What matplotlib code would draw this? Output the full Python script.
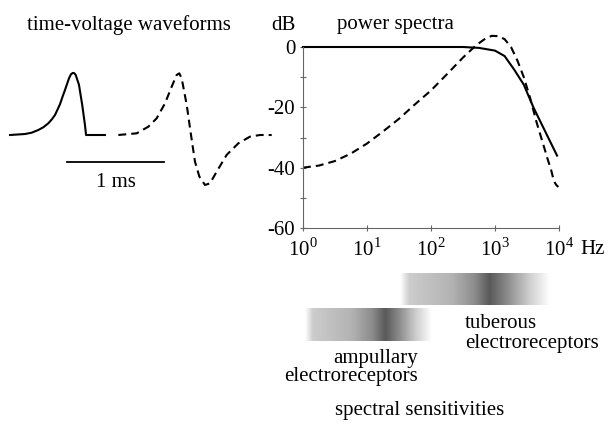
import numpy as np
import matplotlib
matplotlib.use('Agg')
from matplotlib import pyplot as plt

plt.rcParams['font.family'] = 'Liberation Serif'
plt.rcParams['mathtext.fontset'] = 'custom'
plt.rcParams['mathtext.rm'] = 'Liberation Serif'
plt.rcParams['axes.unicode_minus'] = False
plt.rcParams['font.size'] = 15

# time-voltage waveforms (time in ms, relative voltage)
pulse_t = [0, 0.155, 0.223, 0.292, 0.343, 0.395, 0.43, 0.464, 0.515, 0.54, 0.567,
           0.608, 0.629, 0.646, 0.66, 0.677, 0.711, 0.745, 0.773, 0.784, 0.979]
pulse_v = [0, 0.016, 0.037, 0.081, 0.124, 0.189, 0.25, 0.323, 0.495, 0.61, 0.726,
           0.914, 0.98, 1.0, 1.0, 0.97, 0.81, 0.48, 0.16, 0, 0]
wave_t = [1.117, 1.306, 1.426, 1.512, 1.598, 1.667, 1.718, 1.745, 1.77, 1.822,
          1.866, 1.907, 1.952, 2.01, 2.062, 2.131, 2.234, 2.354, 2.474, 2.577, 2.698]
wave_v = [0, 0.027, 0.134, 0.269, 0.511, 0.78, 0.968, 0.995, 0.914, 0.484,
          0, -0.43, -0.67, -0.806, -0.78, -0.59, -0.32, -0.134, -0.027, 0, 0]
scale_start = 0.59   # ms
scale_len = 1.0      # ms

# power spectra (log10 Hz, dB)
pulse_logf = [0, 1, 2, 2.5, 2.75, 3.0, 3.15, 3.3, 3.45, 3.6, 3.75, 3.9, 3.97]
pulse_db = [0, 0, 0, 0, -0.3, -1.2, -3.0, -7.5, -12.5, -20, -26.5, -33, -36]
wave_logf = [0, 0.25, 0.5, 0.75, 1.0, 1.25, 1.5, 1.75, 2.0, 2.25, 2.5, 2.7, 2.85,
             2.95, 3.05, 3.15, 3.25, 3.35, 3.45, 3.55, 3.65, 3.75, 3.82, 3.88,
             3.92, 3.96, 3.99]
wave_db = [-40, -39.3, -37.8, -35.3, -32, -28, -23.8, -19, -14.4, -9, -3.5, 0.5,
           2.8, 3.7, 3.6, 2.6, 0, -4.5, -10, -17, -25, -32, -37, -41, -44.5,
           -45.8, -46.4]

# spectral sensitivities (log10 Hz: start, peak, end)
sens_names = ['tuberous', 'ampullary']
sens_start = [1.52, 0.03]
sens_peak = [2.92, 1.28]
sens_end = [3.86, 2.0]

W, H = 608, 424
fig = plt.figure(figsize=(W / 100, H / 100), dpi=100)

# --- waveforms ---
axw = fig.add_axes([0, 0, 300 / W, 1])
axw.plot(pulse_t, pulse_v, color='black', lw=1.5, solid_joinstyle='round')
axw.plot(wave_t, wave_v, color='black', lw=1.5, dashes=(3.8, 2.4))
axw.plot([scale_start, scale_start + scale_len], [-0.435, -0.435], color='black', lw=1.3)
axw.text(scale_start + scale_len / 2, -0.77, '1 ms', ha='center', va='center')
axw.set_xlim(-10 / 97, 290 / 97)
axw.set_ylim((135 - H) / 62, 135 / 62)
axw.axis('off')

# --- power spectra ---
y_top = 47 - 5 * 181 / 60
ax = fig.add_axes([303 / W, (H - 228) / H, 256 / W, (228 - y_top) / H])
ax.plot(10 ** np.array(pulse_logf), pulse_db, color='black', lw=1.5, clip_on=False)
ax.plot(10 ** np.array(wave_logf), wave_db, color='black', lw=1.5, dashes=(3.8, 2.4),
        clip_on=False)
ax.set_xscale('log')
ax.set_xlim(1, 1e4)
ax.set_ylim(-60, 5)
ax.set_xticks([1, 10, 100, 1000, 10000])
ax.set_xticklabels([r'$10^{%d}$' % i for i in range(5)])
ax.minorticks_off()
ax.set_yticks([0, -20, -40, -60])
ax.set_yticklabels(['0', '-20', '-40', '-60'])
ax.set_yticks([-10, -30, -50], minor=True)
for s in ['top', 'right']:
    ax.spines[s].set_visible(False)
ax.spines['left'].set_bounds(-60, 0)
for s in ['left', 'bottom']:
    ax.spines[s].set_color('#666666')
    ax.spines[s].set_linewidth(0.8)
ax.tick_params(which='both', direction='inout', length=4, width=0.8, color='#666666')
ax.tick_params(axis='y', pad=3.5)
ax.tick_params(axis='x', pad=5)
fig.text(580 / W, 1 - 254 / H, 'Hz', ha='left', va='baseline')
fig.text(283 / W, 1 - 25 / H, 'dB', ha='center', va='center')
fig.text(395 / W, 1 - 25 / H, 'power spectra', ha='center', va='center')
fig.text(27 / W, 1 - 25 / H, 'time-voltage waveforms', ha='left', va='center')

# --- spectral sensitivity bars ---
axb = fig.add_axes([303 / W, 0, 256 / W, 164 / H])
rows = [(13, 45), (48, 81)]
for x0, xp, x1, (ya, yb) in zip(sens_start, sens_peak, sens_end, rows):
    pk = (xp - x0) / (x1 - x0)
    f = np.linspace(0, 1, 300)
    ctrl_x = [0, 0.06, 0.35 * pk / 0.6, 0.5 * pk / 0.6, pk,
              pk + (1 - pk) * 0.3, pk + (1 - pk) * 0.65, 1.0]
    ctrl_d = [0, 0.2, 0.3, 0.45, 0.65, 0.45, 0.2, 0]
    dark = np.interp(f, ctrl_x, ctrl_d)
    axb.imshow(dark[None, :], cmap='gray_r', vmin=0, vmax=1, aspect='auto',
               extent=(x0, x1, yb, ya), interpolation='bilinear')
axb.set_xlim(0, 4)
axb.set_ylim(164, 0)
axb.axis('off')
axb.text(2.53, 73.5, 'tuberous\nelectroreceptors', ha='left', va='center',
         multialignment='left', linespacing=1.05)
axb.text(1.80, 107.5, 'ampullary\nelectroreceptors', ha='right', va='center',
         multialignment='right', linespacing=1.0)
axb.text(1.83, 150, 'spectral sensitivities', ha='center', va='center')

fig.savefig('out.png', dpi=100)
